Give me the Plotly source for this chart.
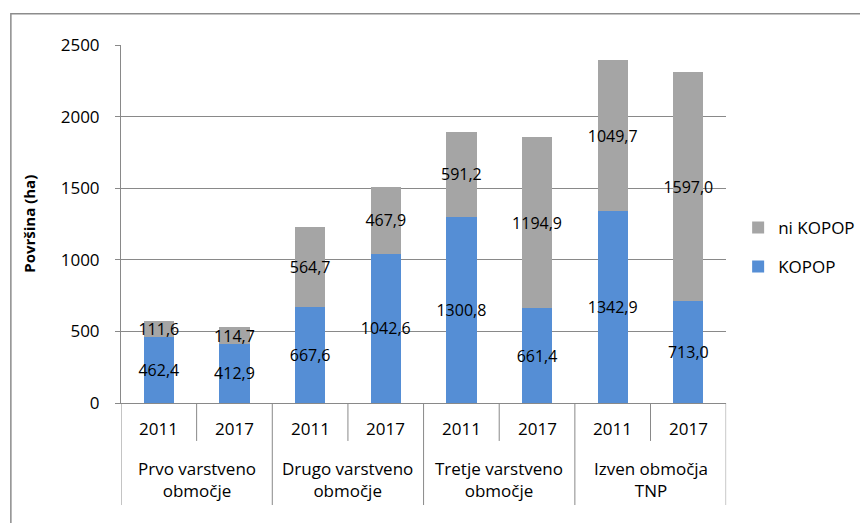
import plotly.graph_objects as go

groups = ["Prvo varstveno<br>območje", "Drugo varstveno<br>območje",
          "Tretje varstveno<br>območje", "Izven območja<br>TNP"]
years = ["2011", "2017"]
kopop = [462.4, 412.9, 667.6, 1042.6, 1300.8, 661.4, 1342.9, 713.0]
ni_kopop = [111.6, 114.7, 564.7, 467.9, 591.2, 1194.9, 1049.7, 1597.0]

FONT = "Open Sans"
GRID = "#898989"

def fmt(v):
    return f"{v:.1f}".replace(".", ",")

x = list(range(len(kopop)))

fig = go.Figure()
for name, vals, col, rank in [("KOPOP", kopop, "#558ED5", 2), ("ni KOPOP", ni_kopop, "#A5A5A5", 1)]:
    fig.add_trace(go.Bar(
        x=x, y=vals, name=name, width=0.4, marker_color=col,
        marker_line_width=0,
        text=[fmt(v) for v in vals], textposition="inside",
        insidetextanchor="middle", textangle=0, constraintext="none",
        textfont=dict(family=FONT, size=16, color="black"),
        legendgroup=name, legendrank=rank, hoverinfo="skip",
    ))

# x-axis category labels and dividers
ann = []
shapes = []
for i in range(len(x)):
    ann.append(dict(x=i, y=-0.07, xref="x", yref="paper", text=years[i % 2],
                    xanchor="center", yanchor="middle",
                    showarrow=False, font=dict(family=FONT, size=17, color="black")))
for g, name in enumerate(groups):
    ann.append(dict(x=2 * g + 0.5, y=-0.215, xref="x", yref="paper", text=name,
                    xanchor="center", yanchor="middle",
                    showarrow=False, font=dict(family=FONT, size=17, color="black")))
for i in range(len(x) + 1):
    y_end = -0.285 if i % 2 == 0 else -0.106
    shapes.append(dict(type="line", xref="x", yref="paper", x0=i - 0.5, x1=i - 0.5,
                       y0=0, y1=y_end, line=dict(color=GRID, width=1)))

# outer chart frame
shapes.append(dict(type="rect", xref="paper", yref="paper", x0=-0.182, x1=1.223,
                   y0=-0.4, y1=1.087, line=dict(color="#8c8c8c", width=1.5), layer="below"))

ann.append(dict(x=-0.1525, y=0.5, xref="paper", yref="paper", text="<b>Površina (ha)</b>",
                xanchor="center", yanchor="middle",
                textangle=-90, showarrow=False, font=dict(family=FONT, size=15, color="black")))

fig.update_layout(
    width=860, height=515, barmode="stack",
    margin=dict(l=113, r=137, t=37, b=120),
    paper_bgcolor="white", plot_bgcolor="white",
    font=dict(family=FONT, size=17, color="black"),
    showlegend=True,
    legend=dict(xref="container", yref="container", x=0.849, y=0.608,
                xanchor="left", yanchor="top",
                traceorder="grouped", tracegroupgap=14,
                font=dict(family=FONT, size=17, color="black")),
    annotations=ann, shapes=shapes,
    xaxis=dict(range=[-0.5, len(x) - 0.5], showticklabels=False, showgrid=False,
               showline=True, linecolor=GRID, linewidth=1, zeroline=False, fixedrange=True),
    yaxis=dict(range=[0, 2500], dtick=500, showgrid=True, gridcolor=GRID, gridwidth=1,
               showline=True, linecolor=GRID, linewidth=1, ticks="outside", ticklen=5,
               tickcolor=GRID, zeroline=False, ticklabelstandoff=12,
               tickfont=dict(family=FONT, size=17, color="black")),
)

fig.write_html("out.html")
